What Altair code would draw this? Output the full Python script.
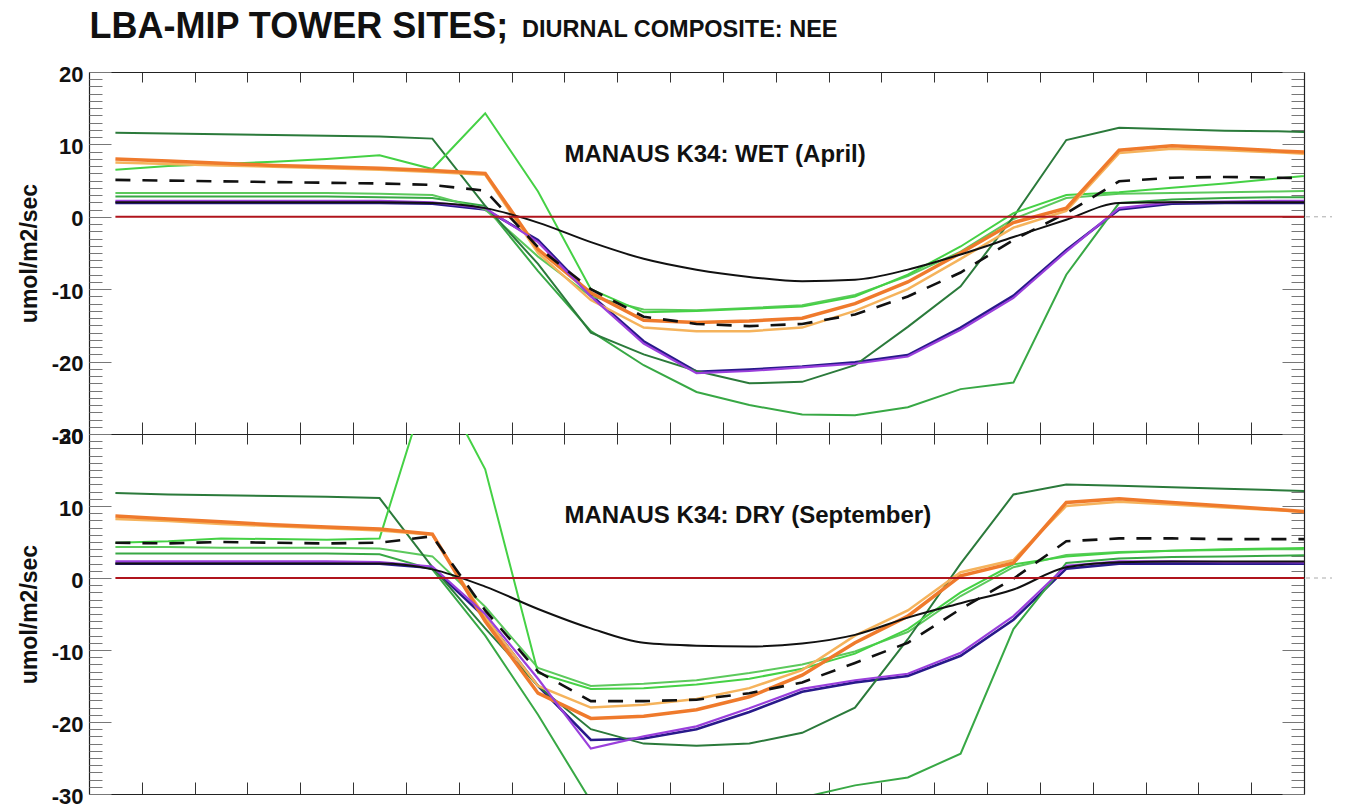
import altair as alt
import pandas as pd

FONT = "Liberation Sans, Arial, Helvetica, sans-serif"

# ---------------- data ----------------
HOURS = [0.5, 1.5, 2.5, 3.5, 4.5, 5.5, 6.5, 7.5, 8.5, 9.5, 10.5, 11.5,
         12.5, 13.5, 14.5, 15.5, 16.5, 17.5, 18.5, 19.5, 20.5, 21.5, 22.5, 23.5]

# Wet season (April)
WET_NAVY = [1.9, 1.9, 1.9, 1.9, 1.9, 1.9, 1.8, 1.0, -3.2, -10.8, -17.2, -21.4,
            -21.1, -20.7, -20.1, -19.1, -15.3, -10.9, -4.6, 1.0, 1.8, 1.9, 1.9, 1.9]
WET_GREEN_LOW = [2.8, 2.8, 2.8, 2.8, 2.8, 2.7, 2.6, 1.5, -7.5, -15.8, -20.5, -24.2,
                 -26.0, -27.3, -27.4, -26.3, -23.8, -22.9, -8.0, 1.9, 2.4, 2.6, 2.7, 2.7]
WET_GREEN_MID = [3.3, 3.3, 3.3, 3.3, 3.3, 3.2, 3.0, 1.0, -5.5, -11.0, -12.8, -12.9,
                 -12.6, -12.2, -10.8, -8.2, -4.8, -0.3, 2.6, 3.2, 3.3, 3.4, 3.5, 3.6]
WET_GREEN_DARK = [11.6, 11.5, 11.4, 11.3, 11.2, 11.1, 10.8, 1.5, -6.5, -16.0, -19.0, -21.3,
                  -23.0, -22.8, -20.5, -15.2, -9.6, 0.0, 10.6, 12.3, 12.1, 11.9, 11.8, 11.6]
WET_GREEN_BRIGHT = [6.5, 7.0, 7.3, 7.6, 8.0, 8.5, 6.6, 14.3, 3.5, -10.0, -13.2, -13.0,
                    -12.7, -12.4, -11.0, -8.0, -4.1, 0.5, 3.0, 3.4, 4.0, 4.6, 5.3, 6.0]
WET_ORANGE_LIGHT = [7.5, 7.3, 7.1, 6.9, 6.7, 6.5, 6.2, 5.8, -5.0, -11.5, -15.3, -15.8,
                    -15.8, -15.3, -13.0, -10.0, -5.8, -1.5, 0.8, 8.8, 9.4, 9.2, 8.9, 8.5]
WET_ORANGE = [8.0, 7.7, 7.4, 7.1, 6.9, 6.7, 6.4, 6.0, -4.5, -10.5, -14.3, -14.6,
              -14.4, -14.0, -12.0, -9.0, -5.0, -0.8, 1.2, 9.2, 9.8, 9.5, 9.1, 8.8]
WET_PURPLE = [2.2, 2.2, 2.2, 2.2, 2.2, 2.2, 2.0, 1.2, -3.5, -11.0, -17.5, -21.6,
              -21.3, -20.8, -20.3, -19.3, -15.6, -11.2, -4.8, 1.2, 2.0, 2.1, 2.2, 2.2]
WET_BLACK = [2.0, 2.0, 2.0, 2.0, 2.0, 2.0, 1.9, 1.2, -0.8, -3.5, -5.8, -7.3,
             -8.3, -8.9, -8.7, -7.3, -5.2, -2.8, -0.4, 1.9, 2.0, 2.0, 2.0, 2.0]
WET_DASHED = [5.1, 5.0, 4.9, 4.8, 4.7, 4.6, 4.4, 3.6, -4.2, -10.0, -13.8, -14.8,
              -15.1, -14.8, -13.5, -11.0, -7.7, -3.2, 0.5, 4.9, 5.4, 5.5, 5.4, 5.3]
WET_ZERO = [0.0] * 24

# Dry season (September)
DRY_NAVY = [2.0, 2.0, 2.0, 2.0, 2.0, 2.0, 1.4, -5.5, -15.0, -22.5, -22.3, -21.0,
            -18.6, -15.8, -14.5, -13.6, -10.8, -5.8, 1.3, 2.0, 2.0, 2.0, 2.0, 2.0]
DRY_GREEN_LOW = [3.4, 3.4, 3.4, 3.4, 3.4, 3.3, 1.2, -8.0, -19.0, -31.0, -34.0, -35.0,
                 -33.0, -30.5, -28.8, -27.7, -24.4, -7.1, 2.1, 2.7, 2.9, 3.0, 3.1, 3.2]
DRY_GREEN_MID = [4.3, 4.3, 4.2, 4.2, 4.2, 4.1, 3.0, -4.0, -12.5, -15.0, -14.7, -14.2,
                 -13.2, -12.0, -10.2, -7.5, -2.5, 1.5, 3.2, 3.6, 3.8, 3.9, 4.0, 4.0]
DRY_GREEN_DARK = [11.8, 11.6, 11.5, 11.4, 11.3, 11.1, 1.5, -7.0, -15.0, -21.0, -23.0, -23.3,
                  -23.0, -21.5, -18.0, -8.5, 2.0, 11.6, 13.0, 12.8, 12.6, 12.4, 12.2, 12.0]
DRY_GREEN_BRIGHT = [4.9, 5.1, 5.5, 5.4, 5.3, 5.5, 29.0, 15.1, -13.2, -15.4, -15.3, -14.8,
                    -14.0, -12.6, -10.5, -7.1, -2.0, 1.9, 3.0, 3.5, 3.8, 4.0, 4.1, 4.2]
DRY_ORANGE_LIGHT = [8.2, 7.9, 7.5, 7.2, 6.9, 6.6, 6.0, -5.5, -15.0, -18.0, -17.6, -16.8,
                    -15.3, -12.8, -8.0, -4.5, 0.8, 2.5, 10.0, 10.6, 10.2, 9.8, 9.4, 8.9]
DRY_ORANGE = [8.6, 8.2, 7.8, 7.4, 7.1, 6.8, 6.1, -6.0, -16.0, -19.5, -19.2, -18.3,
              -16.5, -13.5, -9.0, -5.3, 0.3, 2.1, 10.5, 11.0, 10.5, 10.0, 9.5, 9.0]
DRY_PURPLE = [2.3, 2.3, 2.3, 2.3, 2.3, 2.2, 1.6, -5.0, -14.0, -23.7, -22.0, -20.6,
              -18.1, -15.4, -14.2, -13.3, -10.4, -5.3, 1.7, 2.3, 2.3, 2.2, 2.2, 2.1]
DRY_BLACK = [2.0, 2.0, 2.0, 2.0, 2.0, 2.0, 1.2, -1.2, -4.3, -7.0, -9.0, -9.4,
             -9.5, -9.1, -7.9, -5.5, -3.5, -1.6, 1.5, 2.2, 2.3, 2.3, 2.3, 2.3]
DRY_DASHED = [4.9, 4.8, 5.0, 4.9, 4.8, 4.9, 5.8, -4.5, -13.0, -17.1, -17.1, -16.9,
              -16.0, -14.5, -11.8, -9.0, -4.3, -0.1, 5.1, 5.5, 5.5, 5.4, 5.4, 5.4]
DRY_ZERO = [0.0] * 24

Y_LABEL_TICKS = [-30, -20, -10, 0, 10, 20]
Y_MINOR_TICKS = list(range(-30, 21))
X_TICKS = list(range(0, 24))

TITLE_MAIN = "LBA-MIP TOWER SITES;"
TITLE_SUB = "DIURNAL COMPOSITE: NEE"
Y_TITLE = "umol/m2/sec"
PANEL_LABELS = ["MANAUS K34: WET (April)", "MANAUS K34: DRY (September)"]

# ---------------- styles / layout ----------------
SERIES = ["navy", "green_low", "green_mid", "green_dark", "green_bright",
          "orange_light", "orange", "purple", "black", "dashed", "zero"]
STYLE = {
    "navy": dict(color="#28198a", strokeWidth=2.6),
    "green_low": dict(color="#38a845", strokeWidth=2),
    "green_mid": dict(color="#5cc95c", strokeWidth=2),
    "green_dark": dict(color="#2b7a3b", strokeWidth=2),
    "green_bright": dict(color="#45d145", strokeWidth=2),
    "orange_light": dict(color="#f5b35c", strokeWidth=2.5),
    "orange": dict(color="#ef7a2c", strokeWidth=3.5),
    "purple": dict(color="#9a3fdc", strokeWidth=2.2),
    "black": dict(color="#111111", strokeWidth=2, interpolate="monotone"),
    "dashed": dict(color="#111111", strokeWidth=2.6, strokeDash=[15, 12]),
    "zero": dict(color="#b0141c", strokeWidth=2),
}

W = 1215
H_TOP = 362
H_BOT = 360
X_DOMAIN = [0, 23]
Y_DOMAIN = [-30, 20]

XS = alt.Scale(domain=X_DOMAIN, nice=False, zero=False)
YS = alt.Scale(domain=Y_DOMAIN, nice=False, zero=False)


def build_df(values):
    rows = []
    for name in SERIES:
        for h, v in zip(HOURS, values[name]):
            rows.append({"hour": h, "value": v, "series": name})
    return pd.DataFrame(rows)


WET = build_df({
    "navy": WET_NAVY, "green_low": WET_GREEN_LOW, "green_mid": WET_GREEN_MID,
    "green_dark": WET_GREEN_DARK, "green_bright": WET_GREEN_BRIGHT,
    "orange_light": WET_ORANGE_LIGHT, "orange": WET_ORANGE, "purple": WET_PURPLE,
    "black": WET_BLACK, "dashed": WET_DASHED, "zero": WET_ZERO})
DRY = build_df({
    "navy": DRY_NAVY, "green_low": DRY_GREEN_LOW, "green_mid": DRY_GREEN_MID,
    "green_dark": DRY_GREEN_DARK, "green_bright": DRY_GREEN_BRIGHT,
    "orange_light": DRY_ORANGE_LIGHT, "orange": DRY_ORANGE, "purple": DRY_PURPLE,
    "black": DRY_BLACK, "dashed": DRY_DASHED, "zero": DRY_ZERO})

ylab_df = pd.DataFrame({"v": Y_LABEL_TICKS, "h": [0] * len(Y_LABEL_TICKS)})
yminor_df = pd.DataFrame({"v": Y_MINOR_TICKS, "h": [0] * len(Y_MINOR_TICKS)})
xt_df = pd.DataFrame({"h": X_TICKS, "v": [0] * len(X_TICKS)})


def y_axis_layer(df, axis):
    return alt.Chart(df).mark_point(opacity=0).encode(
        x=alt.X("h:Q", scale=XS, axis=None),
        y=alt.Y("v:Q", scale=YS, axis=axis))


def x_axis_layer(axis):
    return alt.Chart(xt_df).mark_point(opacity=0).encode(
        x=alt.X("h:Q", scale=XS, axis=axis),
        y=alt.Y("v:Q", scale=YS, axis=None))


def panel(df, label, height, with_title):
    xpp = (X_DOMAIN[1] - X_DOMAIN[0]) / W        # data units per pixel
    ypp = (Y_DOMAIN[1] - Y_DOMAIN[0]) / height
    layers = []
    for name in SERIES:
        layers.append(
            alt.Chart(df).transform_filter(alt.datum.series == name)
            .mark_line(clip=True, strokeJoin="miter", **STYLE[name])
            .encode(x=alt.X("hour:Q", scale=XS, axis=None),
                    y=alt.Y("value:Q", scale=YS, axis=None),
                    order="hour:Q"))

    # dotted extension of the zero line outside the frame
    layers.append(
        alt.Chart(pd.DataFrame({"a": [X_DOMAIN[1] + 2 * xpp],
                                "b": [X_DOMAIN[1] + 28 * xpp], "v": [0]}))
        .mark_rule(color="#aaaaaa", strokeDash=[4, 4], strokeWidth=1)
        .encode(x=alt.X("a:Q", scale=XS, axis=None), x2="b:Q",
                y=alt.Y("v:Q", scale=YS, axis=None)))

    # panel label
    layers.append(
        alt.Chart(pd.DataFrame({"t": [label], "x": [9.0], "y": [7.6]}))
        .mark_text(align="left", baseline="alphabetic", font=FONT,
                   fontSize=24, fontWeight="bold", color="#111111")
        .encode(text="t:N",
                x=alt.X("x:Q", scale=XS, axis=None),
                y=alt.Y("y:Q", scale=YS, axis=None)))

    if with_title:
        tdf = pd.DataFrame({
            "t": [TITLE_MAIN, TITLE_SUB],
            "x": [0.5 * xpp, 433 * xpp],
            "y": [Y_DOMAIN[1] + 34 * ypp, Y_DOMAIN[1] + 35 * ypp],
            "s": ["main", "sub"]})
        for s, fs in (("main", 36), ("sub", 23.5)):
            layers.append(
                alt.Chart(tdf).transform_filter(alt.datum.s == s)
                .mark_text(align="left", baseline="alphabetic", font=FONT,
                           fontSize=fs, fontWeight="bold", color="#111111")
                .encode(text="t:N",
                        x=alt.X("x:Q", scale=XS, axis=None),
                        y=alt.Y("y:Q", scale=YS, axis=None)))

    # left axis: labels + title + frame line
    layers.append(y_axis_layer(ylab_df, alt.Axis(
        orient="left", values=Y_LABEL_TICKS, ticks=False, tickSize=0,
        labelExpr="'' + datum.value",
        labelPadding=6, labelFont=FONT, labelFontSize=22, labelFontWeight="bold",
        labelColor="#111111", labelOffset=2, labelOverlap=False,
        title=Y_TITLE, titleFont=FONT, titleFontSize=23, titleFontWeight="bold",
        titleColor="#111111", titlePadding=10,
        domain=True, domainColor="#222222", domainWidth=1.2, grid=False)))
    # inward ticks on the left edge (minor + major)
    layers.append(y_axis_layer(yminor_df, alt.Axis(
        orient="right", offset=-W, values=Y_MINOR_TICKS, labels=False,
        domain=False, grid=False, ticks=True, tickSize=13, tickColor="#777777",
        tickWidth=1, title=None)))
    layers.append(y_axis_layer(ylab_df, alt.Axis(
        orient="right", offset=-W, values=Y_LABEL_TICKS, labels=False,
        domain=False, grid=False, ticks=True, tickSize=22, tickColor="#777777",
        tickWidth=1, title=None)))
    # inward ticks on the right edge + right frame line
    layers.append(y_axis_layer(yminor_df, alt.Axis(
        orient="left", offset=-W, values=Y_MINOR_TICKS, labels=False,
        domain=True, domainColor="#222222", domainWidth=1.2, grid=False,
        ticks=True, tickSize=13, tickColor="#777777", tickWidth=1, title=None)))
    layers.append(y_axis_layer(ylab_df, alt.Axis(
        orient="left", offset=-W, values=Y_LABEL_TICKS, labels=False,
        domain=False, grid=False, ticks=True, tickSize=22, tickColor="#777777",
        tickWidth=1, title=None)))
    # top edge (ticks pointing down) and bottom edge (ticks pointing up)
    layers.append(x_axis_layer(alt.Axis(
        orient="bottom", offset=-height, values=X_TICKS, labels=False,
        domain=True, domainColor="#222222", domainWidth=1.2, grid=False,
        ticks=True, tickSize=10, tickColor="#333333", tickWidth=1, title=None)))
    layers.append(x_axis_layer(alt.Axis(
        orient="top", offset=-height, values=X_TICKS, labels=False,
        domain=True, domainColor="#222222", domainWidth=1.2, grid=False,
        ticks=True, tickSize=12, tickColor="#333333", tickWidth=1, title=None)))

    return alt.layer(*layers).properties(width=W, height=height).resolve_axis(
        x="independent", y="independent")


top = panel(WET, PANEL_LABELS[0], H_TOP, True)
bottom = panel(DRY, PANEL_LABELS[1], H_BOT, False)

chart = alt.vconcat(top, bottom, spacing=0, bounds="flush").properties(
    padding={"left": 10, "top": 0, "right": 0, "bottom": 0},
    background="white",
).configure_view(stroke=None).configure_axis(grid=False)

chart.save("out.html", embed_options={"renderer": "svg", "actions": False})
